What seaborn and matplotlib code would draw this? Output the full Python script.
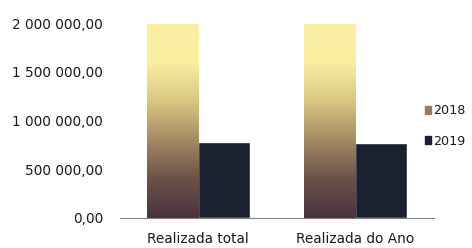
import numpy as np
import pandas as pd
import seaborn as sns
import matplotlib.pyplot as plt
from matplotlib.colors import LinearSegmentedColormap
from matplotlib.patches import Patch
from matplotlib.ticker import FuncFormatter

categories = ['Realizada total', 'Realizada do Ano']
years = ['2018', '2019']
v2018 = [1995000, 1995000]
v2019 = [780000, 772000]

df = pd.DataFrame({
    'cat': categories * 2,
    'ano': [years[0]] * 2 + [years[1]] * 2,
    'valor': v2018 + v2019,
})

sns.set_style('white')
plt.rcParams['font.family'] = ['DejaVu Sans']

fig = plt.figure(figsize=(4.72, 2.48), dpi=100)
ax = fig.add_axes([0.254, 0.121, 0.665, 0.786])

sns.barplot(data=df, x='cat', y='valor', hue='ano',
            palette={'2018': '#a07a55', '2019': '#1b2030'},
            width=0.66, gap=0, saturation=1, legend=False, ax=ax)

# gradient fill for the 2018 bars
cmap = LinearSegmentedColormap.from_list(
    'grad', ['#4a3241', '#6b5248', '#a48a63', '#dac780', '#faee9f', '#fbf0a4'])
grad = np.linspace(0, 1, 256).reshape(-1, 1)
for bar in ax.containers[0]:
    x0, y0 = bar.get_x(), bar.get_y()
    w, h = bar.get_width(), bar.get_height()
    im = ax.imshow(grad, extent=[x0, x0 + w, y0, y0 + h], origin='lower',
                   aspect='auto', cmap=cmap, zorder=bar.get_zorder() + 0.1)
    im.set_clip_path(bar)

ax.set_xlim(-0.5, 1.5)
ax.set_ylim(0, 2000000)
ax.set_yticks([0, 500000, 1000000, 1500000, 2000000])
ax.yaxis.set_major_formatter(FuncFormatter(
    lambda v, p: f'{v:,.2f}'.replace(',', ' ').replace('.', ',')))
ax.set_xlabel('')
ax.set_ylabel('')

for s in ['left', 'top', 'right']:
    ax.spines[s].set_visible(False)
ax.spines['bottom'].set_color('#7f7f7f')
ax.set_xticks([-0.5, 0.5, 1.5], minor=True)
ax.tick_params(axis='x', which='minor', length=3, color='#7f7f7f', direction='out')
ax.tick_params(axis='x', which='major', length=0, labelsize=9.8, pad=10,
               labelcolor='#1a1a1a')
ax.tick_params(axis='y', length=0, labelsize=9.8, pad=12, labelcolor='#1a1a1a')

handles = [Patch(color='#a07a55', label='2018'), Patch(color='#1b2030', label='2019')]
fig.legend(handles=handles, loc='upper left', bbox_to_anchor=(0.881, 0.615),
           frameon=False, fontsize=9.2, handlelength=0.5, handleheight=0.5,
           handletextpad=0.15, labelspacing=1.35, borderpad=0.2,
           labelcolor='#1a1a1a')

fig.savefig('out.png', dpi=100)
